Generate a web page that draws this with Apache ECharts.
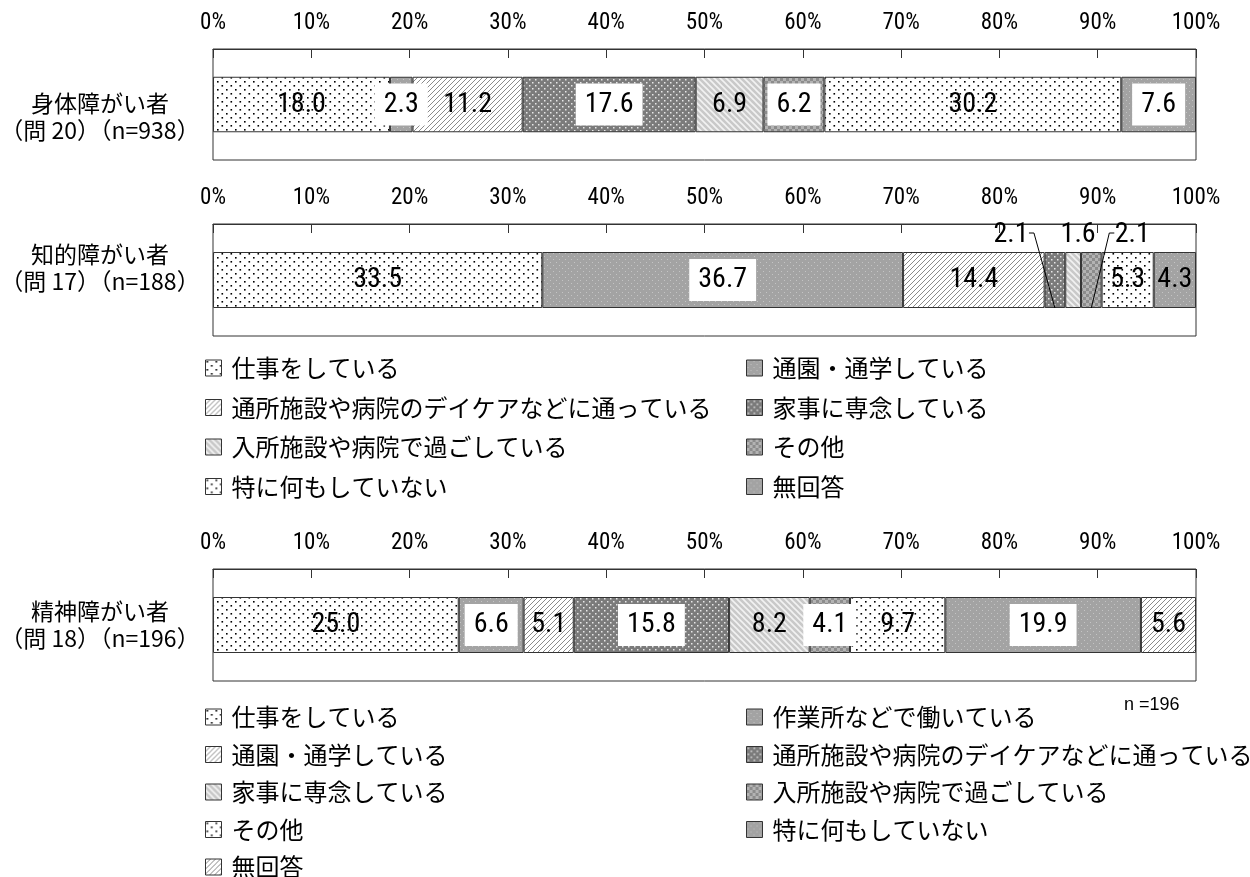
<!DOCTYPE html>
<html>
<head>
<meta charset="utf-8">
<script src="https://cdn.jsdelivr.net/npm/echarts@6/dist/echarts.min.js"></script>
<style>
  html, body { margin: 0; background: #fff; }
  #chart { width: 1250px; height: 877px; }
</style>
</head>
<body>
<div id="chart"></div>
<script>
// categories and values (percent)
const groupsA = ['仕事をしている', '通園・通学している', '通所施設や病院のデイケアなどに通っている', '家事に専念している',
  '入所施設や病院で過ごしている', 'その他', '特に何もしていない', '無回答']
const physical = [18.0, 2.3, 11.2, 17.6, 6.9, 6.2, 30.2, 7.6]
const intellectual = [33.5, 36.7, 14.4, 2.1, 1.6, 2.1, 5.3, 4.3]

const groupsB = ['仕事をしている', '作業所などで働いている', '通園・通学している', '通所施設や病院のデイケアなどに通っている',
  '家事に専念している', '入所施設や病院で過ごしている', 'その他', '特に何もしていない', '無回答']
const mental = [25.0, 6.6, 5.1, 15.8, 8.2, 4.1, 9.7, 19.9, 5.6]

const rowLabels = ['身体障がい者\n（問 20）（n=938）', '知的障がい者\n（問 17）（n=188）', '精神障がい者\n（問 18）（n=196）']
const noteText = 'n =196'
const axisMin = 0, axisMax = 100, axisStep = 10

const CJK = '"Noto Sans CJK JP", sans-serif'
const NARROW = '"Roboto Condensed", "Liberation Sans Narrow", "Liberation Sans", sans-serif'

// fill patterns, cycled through in series order
function makePattern(kind) {
  const c = document.createElement('canvas')
  const ctx = c.getContext('2d')
  if (kind === 'dots') {
    c.width = 9; c.height = 8
    ctx.fillStyle = '#fff'; ctx.fillRect(0, 0, 9, 8)
    ctx.fillStyle = '#000'
    ctx.fillRect(1, 1, 1.6, 1.6)
    ctx.fillRect(5.5, 5, 1.6, 1.6)
  } else if (kind === 'grayDots') {
    c.width = 6; c.height = 6
    ctx.fillStyle = '#a3a3a3'; ctx.fillRect(0, 0, 6, 6)
    ctx.fillStyle = '#c4c4c4'
    ctx.fillRect(1, 1, 1, 1)
    ctx.fillRect(4, 4, 1, 1)
  } else if (kind === 'hatchFwd') {
    c.width = 5; c.height = 5
    ctx.fillStyle = '#fff'; ctx.fillRect(0, 0, 5, 5)
    ctx.strokeStyle = '#8a8a8a'; ctx.lineWidth = 1
    ctx.beginPath()
    ctx.moveTo(-1, 6); ctx.lineTo(6, -1)
    ctx.moveTo(-1, 1); ctx.lineTo(1, -1)
    ctx.moveTo(4, 6); ctx.lineTo(6, 4)
    ctx.stroke()
  } else if (kind === 'darkDots') {
    c.width = 6; c.height = 6
    ctx.fillStyle = '#7b7b7b'; ctx.fillRect(0, 0, 6, 6)
    ctx.fillStyle = '#e8e8e8'
    ctx.fillRect(1, 1, 1.5, 1.5)
    ctx.fillRect(4, 4, 1.5, 1.5)
  } else if (kind === 'hatchBack') {
    c.width = 6; c.height = 6
    ctx.fillStyle = '#c9c9c9'; ctx.fillRect(0, 0, 6, 6)
    ctx.strokeStyle = '#f2f2f2'; ctx.lineWidth = 1.6
    ctx.beginPath()
    ctx.moveTo(-1, -1); ctx.lineTo(7, 7)
    ctx.moveTo(-1, 5); ctx.lineTo(1, 7)
    ctx.moveTo(5, -1); ctx.lineTo(7, 1)
    ctx.stroke()
  } else {
    c.width = 6; c.height = 6
    ctx.fillStyle = '#b3b3b3'; ctx.fillRect(0, 0, 6, 6)
    ctx.fillStyle = '#8c8c8c'
    ctx.fillRect(0, 0, 3, 3)
    ctx.fillRect(3, 3, 3, 3)
  }
  return { image: c, repeat: 'repeat' }
}
const patternCycle = ['dots', 'grayDots', 'hatchFwd', 'darkDots', 'hatchBack', 'checker']
const patterns = {}
patternCycle.forEach(k => { patterns[k] = makePattern(k) })
const boxedKinds = ['grayDots', 'darkDots', 'checker']

// label tweaks: key is "chart-index"; small segments get their label above the bar
const LABEL_RISE = 17
const LABEL_HALF = 18
const labelOverrides = {
  '1-3': { dx: -44, line: 'right' },
  '1-4': { dx: 5, line: null },
  '1-5': { dx: 41, line: 'left' },
  '1-7': { unboxed: true }
}

const grids = [
  { left: 213, top: 49, width: 983, height: 111 },
  { left: 213, top: 224, width: 983, height: 112 },
  { left: 213, top: 569, width: 983, height: 112 }
]

const B_SUFFIX = '#B'

function buildSeries(names, values, gi, suffix) {
  return names.map((n, i) => {
    const kind = patternCycle[i % patternCycle.length]
    const ov = labelOverrides[gi + '-' + i] || {}
    const boxed = boxedKinds.includes(kind) && !ov.unboxed
    const label = {
      show: true,
      position: 'inside',
      formatter: p => p.value.toFixed(1),
      fontSize: 28,
      fontFamily: NARROW,
      color: '#000',
      backgroundColor: boxed ? '#fff' : 'transparent',
      padding: boxed ? [7, 9] : 0
    }
    const s = {
      name: n + suffix,
      type: 'bar',
      stack: 'total' + gi,
      xAxisIndex: gi,
      yAxisIndex: gi,
      barWidth: '50%',
      data: [values[i]],
      itemStyle: { color: patterns[kind], borderColor: '#333', borderWidth: 1 },
      label: label,
      emphasis: { disabled: true },
      animation: false
    }
    if (ov.dx != null) {
      label.position = 'top'
      label.backgroundColor = 'transparent'
      label.padding = 0
      s.labelLayout = params => ({
        x: params.rect.x + params.rect.width / 2 + ov.dx,
        y: params.rect.y - LABEL_RISE,
        align: 'center',
        verticalAlign: 'middle'
      })
    }
    return s
  })
}

// leader lines for the labels lifted above the bar (chart 1)
function leaderSeries(values, gi) {
  const rows = []
  let acc = 0
  values.forEach((v, i) => {
    const ov = labelOverrides[gi + '-' + i]
    if (ov && ov.line) rows.push([acc, acc + v, 0, i])
    acc += v
  })
  return {
    type: 'custom',
    xAxisIndex: gi,
    yAxisIndex: gi,
    silent: true,
    z: 10,
    encode: { x: [0, 1], y: 2 },
    data: rows,
    renderItem: (params, api) => {
      const ov = labelOverrides[gi + '-' + api.value(3)]
      const mid = (api.value(0) + api.value(1)) / 2
      const p = api.coord([mid, 0])
      const band = api.size([0, 1])[1]
      const top = p[1] - band / 4
      const bottom = p[1] + band / 4
      const lx = p[0] + ov.dx
      const ly = top - LABEL_RISE - 2
      const dir = ov.line === 'right' ? 1 : -1
      const sx = lx + dir * LABEL_HALF
      return {
        type: 'polyline',
        shape: { points: [[sx, ly], [sx + dir * 5, ly], [p[0], bottom]] },
        style: { stroke: '#000', lineWidth: 1, fill: null }
      }
    }
  }
}

const series = [
  ...buildSeries(groupsA, physical, 0, ''),
  ...buildSeries(groupsA, intellectual, 1, ''),
  ...buildSeries(groupsB, mental, 2, B_SUFFIX),
  leaderSeries(intellectual, 1)
]

const legendBase = {
  orient: 'vertical',
  icon: 'rect',
  itemWidth: 16,
  itemHeight: 16,
  height: 220,
  selectedMode: false,
  itemStyle: { borderColor: '#333', borderWidth: 1 },
  textStyle: { fontSize: 24, fontFamily: CJK, color: '#000', lineHeight: 24, padding: [0, 0, 0, 5] },
  formatter: name => name.replace(B_SUFFIX, '')
}
const pick = (arr, odd, suffix) => arr.filter((_, i) => i % 2 === (odd ? 1 : 0)).map(n => n + suffix)

const chart = echarts.init(document.getElementById('chart'))

chart.setOption({
  animation: false,
  grid: grids.map(g => ({ ...g, show: true, borderColor: '#333', borderWidth: 1, backgroundColor: '#fff' })),
  xAxis: grids.map((g, i) => ({
    type: 'value',
    gridIndex: i,
    position: 'top',
    min: axisMin,
    max: axisMax,
    interval: axisStep,
    axisLine: { show: true, lineStyle: { color: '#333', width: 1 } },
    axisTick: { show: true, inside: true, length: 9, lineStyle: { color: '#333' } },
    axisLabel: { formatter: '{value}%', margin: 14, fontSize: 23, fontFamily: NARROW, color: '#000' },
    splitLine: { show: false }
  })),
  yAxis: grids.map((g, i) => ({
    type: 'category',
    gridIndex: i,
    data: [rowLabels[i]],
    axisLine: { show: false },
    axisTick: { show: false },
    axisLabel: { show: false }
  })),
  legend: [
    { ...legendBase, left: 200, top: 351, itemGap: 15.5, data: pick(groupsA, false, '') },
    { ...legendBase, left: 741, top: 351, itemGap: 15.5, data: pick(groupsA, true, '') },
    { ...legendBase, left: 200, top: 700, itemGap: 13.5, data: pick(groupsB, false, B_SUFFIX) },
    { ...legendBase, left: 741, top: 700, itemGap: 13.5, data: pick(groupsB, true, B_SUFFIX) }
  ],
  graphic: [
    ...rowLabels.map((t, i) => ({
      type: 'text',
      x: 100,
      y: [90, 241, 598][i],
      style: { text: t, align: 'center', verticalAlign: 'top', fontSize: 23, lineHeight: 27, fontFamily: CJK, fill: '#000' }
    })),
    {
      type: 'text',
      x: 1124,
      y: 696,
      style: { text: noteText, fontSize: 18, fontFamily: '"Liberation Sans", sans-serif', fill: '#000' }
    }
  ],
  series: series
})
</script>
</body>
</html>
